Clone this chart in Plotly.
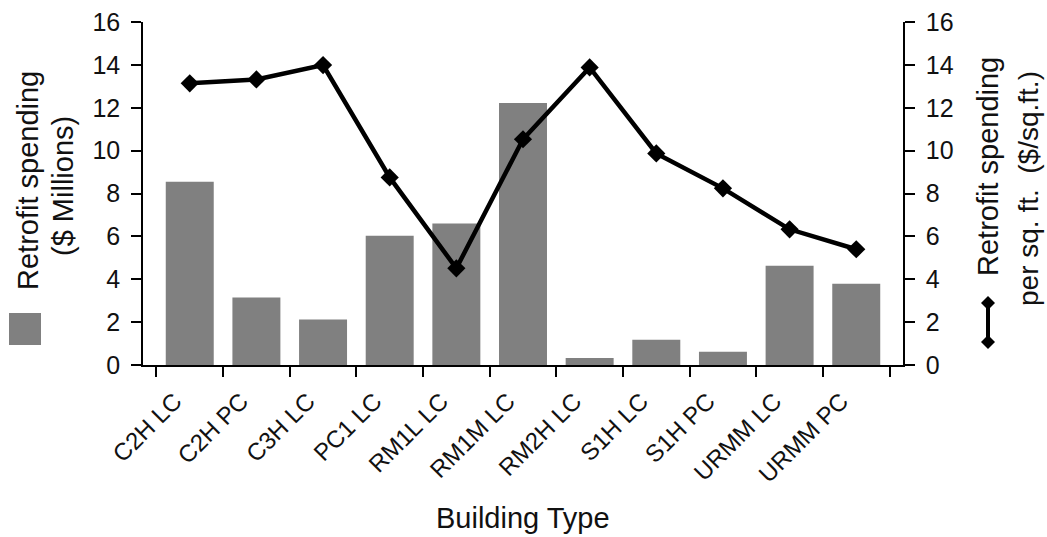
import plotly.graph_objects as go

categories = ["C2H LC", "C2H PC", "C3H LC", "PC1 LC", "RM1L LC", "RM1M LC",
              "RM2H LC", "S1H LC", "S1H PC", "URMM LC", "URMM PC"]
spending_millions = [8.55, 3.15, 2.12, 6.03, 6.6, 12.22, 0.33, 1.18, 0.62, 4.63, 3.79]
spending_per_sqft = [13.14, 13.32, 13.99, 8.75, 4.51, 10.53, 13.88, 9.87, 8.24, 6.33, 5.4]
y_ticks = [0, 2, 4, 6, 8, 10, 12, 14, 16]

W, H = 1047, 537
L, R, T, B = 143, 903, 22, 365
FONT = "Liberation Sans, Arial, sans-serif"
INK = "#111111"


def px(x):
    return (x - L) / (R - L)


def py(y):
    return (B - y) / (B - T)


fig = go.Figure()
fig.add_trace(go.Bar(x=categories, y=spending_millions, marker=dict(color="#808080", line=dict(width=0)),
                     yaxis="y", showlegend=False))
fig.add_trace(go.Scatter(x=categories, y=spending_per_sqft, yaxis="y2", mode="lines+markers",
                         line=dict(color="black", width=4.5),
                         marker=dict(symbol="diamond", size=14, color="black"), showlegend=False))

axis_common = dict(range=[0, 16], tickvals=y_ticks, showgrid=False, zeroline=False,
                   showline=True, linecolor="black", linewidth=1.5, automargin=False,
                   ticks="outside", ticklen=10, tickwidth=1.5, tickcolor="black",
                   tickfont=dict(family=FONT, size=25, color=INK), ticklabelstandoff=6)

fig.update_layout(
    width=W, height=H,
    margin=dict(l=L, r=W - R, t=T, b=H - B, autoexpand=False),
    plot_bgcolor="white", paper_bgcolor="white",
    bargap=0.28,
    xaxis=dict(type="category", showline=True, linecolor="black", linewidth=1.5, automargin=False,
               ticks="outside", tickson="boundaries", ticklen=10, tickwidth=1.5, tickcolor="black",
               tickangle=-45, tickfont=dict(family=FONT, size=24, color=INK),
               ticklabelstandoff=11, ticklabelshift=-15,
               showgrid=False, zeroline=False),
    yaxis=dict(side="left", **axis_common),
    yaxis2=dict(side="right", overlaying="y", **axis_common),
)

annotations = [
    dict(text="Building Type", x=0.5, y=py(518), xref="paper", yref="paper",
         xanchor="center", yanchor="middle", showarrow=False,
         font=dict(family=FONT, size=29, color=INK)),
    dict(text="Retrofit spending", x=px(28), y=py(181), xref="paper", yref="paper",
         textangle=-90, xanchor="center", yanchor="middle", showarrow=False,
         font=dict(family=FONT, size=29, color=INK)),
    dict(text="($ Millions)", x=px(63), y=py(186), xref="paper", yref="paper",
         textangle=-90, xanchor="center", yanchor="middle", showarrow=False,
         font=dict(family=FONT, size=29, color=INK)),
    dict(text="Retrofit spending", x=px(988), y=py(167), xref="paper", yref="paper",
         textangle=-90, xanchor="center", yanchor="middle", showarrow=False,
         font=dict(family=FONT, size=29, color=INK)),
    dict(text="per sq. ft.  ($/sq.ft.)", x=px(1028), y=py(189), xref="paper", yref="paper",
         textangle=-90, xanchor="center", yanchor="middle", showarrow=False,
         font=dict(family=FONT, size=28, color=INK)),
]
fig.update_layout(annotations=annotations)

shapes = [
    dict(type="rect", xref="paper", yref="paper", x0=px(9), x1=px(41), y0=py(345), y1=py(313),
         fillcolor="#808080", line=dict(width=0)),
    dict(type="line", xref="paper", yref="paper", x0=px(988), x1=px(988), y0=py(303), y1=py(342),
         line=dict(color="black", width=4)),
]
for cy in (303, 342):
    d = 7
    path = (f"M {px(988 - d)},{py(cy)} L {px(988)},{py(cy - d)} "
            f"L {px(988 + d)},{py(cy)} L {px(988)},{py(cy + d)} Z")
    shapes.append(dict(type="path", xref="paper", yref="paper", path=path,
                       fillcolor="black", line=dict(width=0)))
fig.update_layout(shapes=shapes)

fig.write_html("out.html", config={"displayModeBar": False},
               post_script="document.body.style.margin='0';document.body.style.overflow='hidden';")
